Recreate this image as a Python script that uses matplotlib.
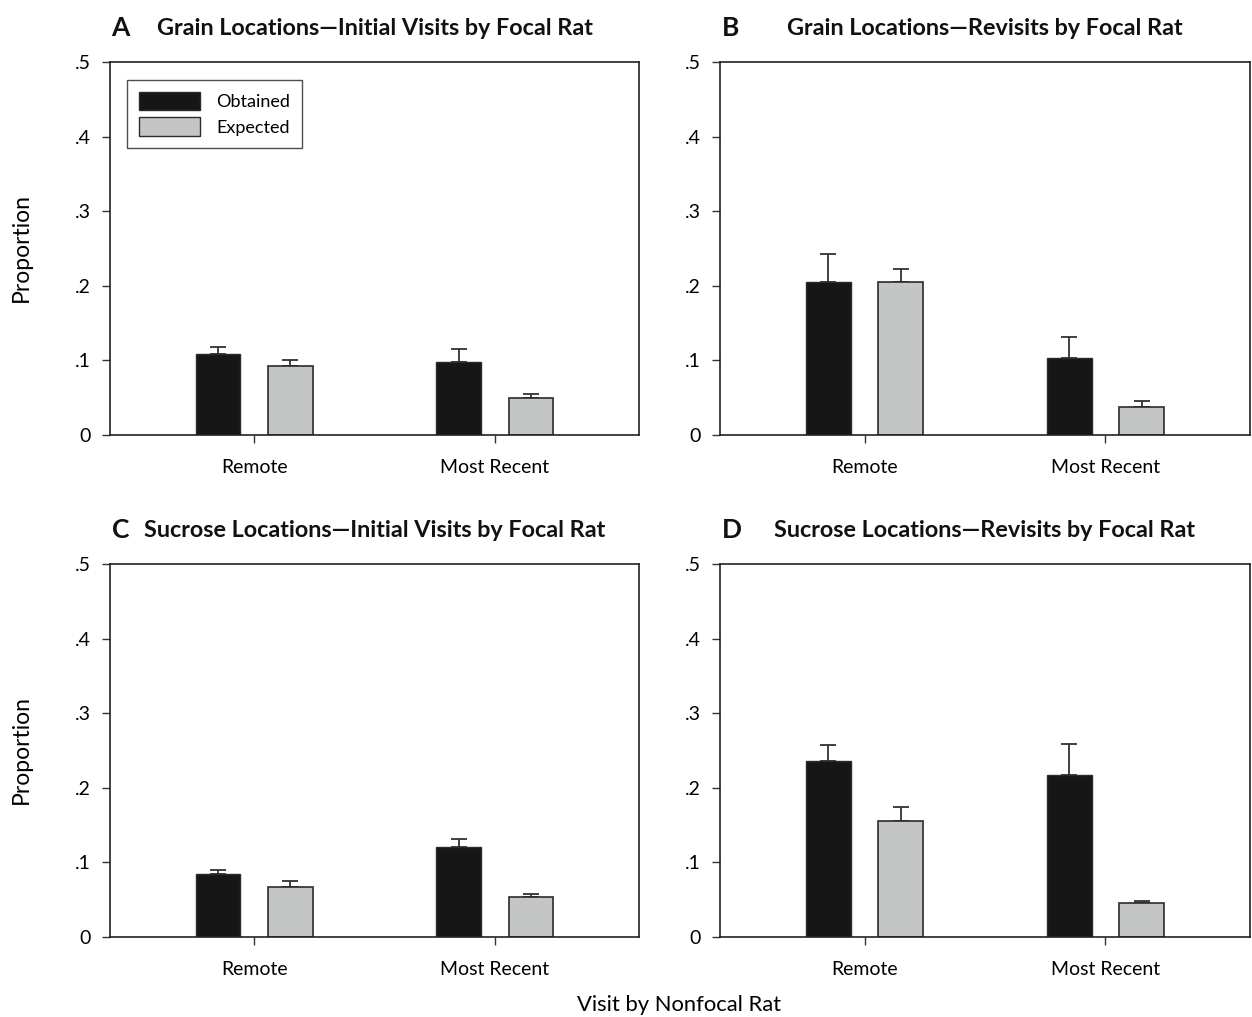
import numpy as np
import matplotlib
matplotlib.use('Agg')
import matplotlib.pyplot as plt
from matplotlib.patches import Patch

plt.rcParams['font.family'] = ['Lato', 'DejaVu Sans']

# categories on the x axis
categories = ['Remote', 'Most Recent']

# panel titles
panel_letters = ['A', 'B', 'C', 'D']
panel_titles = ['Grain Locations\u2014Initial Visits by Focal Rat',
                'Grain Locations\u2014Revisits by Focal Rat',
                'Sucrose Locations\u2014Initial Visits by Focal Rat',
                'Sucrose Locations\u2014Revisits by Focal Rat']

# obtained proportions and upper error
obtained_A = [0.108, 0.098]
obtained_A_err = [0.010, 0.017]
expected_A = [0.093, 0.050]
expected_A_err = [0.008, 0.005]

obtained_B = [0.205, 0.103]
obtained_B_err = [0.038, 0.029]
expected_B = [0.205, 0.037]
expected_B_err = [0.018, 0.008]

obtained_C = [0.084, 0.121]
obtained_C_err = [0.006, 0.011]
expected_C = [0.067, 0.053]
expected_C_err = [0.008, 0.004]

obtained_D = [0.236, 0.217]
obtained_D_err = [0.021, 0.042]
expected_D = [0.156, 0.045]
expected_D_err = [0.018, 0.003]

yticks = [0, 0.1, 0.2, 0.3, 0.4, 0.5]
ytick_labels = ['0', '.1', '.2', '.3', '.4', '.5']

OBT_COLOR = '#161616'
EXP_COLOR = '#c4c6c5'
EDGE = '#2b2b2b'

W, H = 1252, 1017
fig = plt.figure(figsize=(W / 100, H / 100), dpi=100)


def px_axes(left, top, width, height):
    return fig.add_axes([left / W, (H - top - height) / H, width / W, height / H])


def draw_panel(ax, obt, obt_err, exp, exp_err, letter, title, legend=False):
    x = np.arange(len(categories))
    off = 0.15
    bw = 0.185
    ax.bar(x - off, obt, bw, color=OBT_COLOR, edgecolor=EDGE, linewidth=1.0, zorder=2)
    ax.bar(x + off, exp, bw, color=EXP_COLOR, edgecolor=EDGE, linewidth=1.2, zorder=2)
    ax.errorbar(x - off, obt, yerr=[np.zeros(len(obt)), obt_err], fmt='none',
                ecolor='#333333', elinewidth=1.3, capsize=6, capthick=1.3, zorder=1)
    ax.errorbar(x + off, exp, yerr=[np.zeros(len(exp)), exp_err], fmt='none',
                ecolor='#333333', elinewidth=1.3, capsize=6, capthick=1.3, zorder=1)
    ax.set_xlim(-0.6, 1.6)
    ax.set_ylim(0, 0.5)
    ax.set_xticks(x)
    ax.set_xticklabels(categories, fontsize=14)
    ax.set_yticks(yticks)
    ax.set_yticklabels(ytick_labels, fontsize=14)
    ax.tick_params(direction='out', length=6, width=1, color='#333333', pad=8)
    ax.tick_params(axis='x', pad=11)
    for s in ax.spines.values():
        s.set_linewidth(1.2)
        s.set_color('#222222')
    ax.text(0.003, 1.09, letter, transform=ax.transAxes, fontsize=19,
            fontweight='bold', ha='left', va='center', color='#111111')
    ax.text(0.5, 1.09, title, transform=ax.transAxes, fontsize=16.8,
            fontweight='bold', ha='center', va='center', color='#111111')
    if legend:
        handles = [Patch(facecolor=OBT_COLOR, edgecolor=EDGE, label='Obtained'),
                   Patch(facecolor=EXP_COLOR, edgecolor=EDGE, label='Expected')]
        leg = ax.legend(handles=handles, loc='upper left', bbox_to_anchor=(0.032, 0.952),
                        borderaxespad=0, fontsize=13, frameon=True, fancybox=False,
                        edgecolor='#222222', handlelength=3.4, handleheight=1.2,
                        handletextpad=0.9, borderpad=0.65, labelspacing=0.4)
        leg.get_frame().set_linewidth(1.0)


ax_a = px_axes(110, 62, 529, 373)
ax_b = px_axes(720, 62, 530, 373)
ax_c = px_axes(110, 564, 529, 373)
ax_d = px_axes(720, 564, 530, 373)

draw_panel(ax_a, obtained_A, obtained_A_err, expected_A, expected_A_err,
           panel_letters[0], panel_titles[0], legend=True)
draw_panel(ax_b, obtained_B, obtained_B_err, expected_B, expected_B_err,
           panel_letters[1], panel_titles[1])
draw_panel(ax_c, obtained_C, obtained_C_err, expected_C, expected_C_err,
           panel_letters[2], panel_titles[2])
draw_panel(ax_d, obtained_D, obtained_D_err, expected_D, expected_D_err,
           panel_letters[3], panel_titles[3])

# shared labels
fig.text(21 / W, 1 - 248 / H, 'Proportion', rotation=90, ha='center', va='center', fontsize=16.5)
fig.text(21 / W, 1 - 750 / H, 'Proportion', rotation=90, ha='center', va='center', fontsize=16.5)
fig.text(679 / W, 1 - 1005 / H, 'Visit by Nonfocal Rat', ha='center', va='center', fontsize=15.8)

fig.savefig('out.png', dpi=100)
